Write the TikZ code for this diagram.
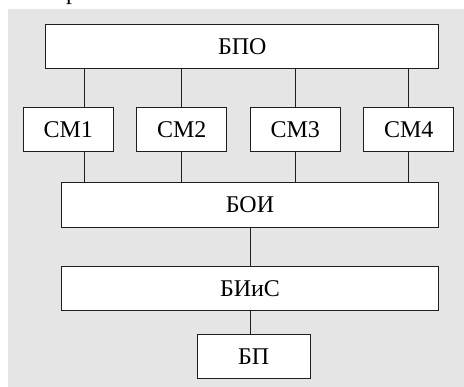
\documentclass[tikz,border=0pt]{standalone}
\usepackage{fontspec}
\setmainfont{Liberation Serif}
\definecolor{panel}{RGB}{229,229,229}
\definecolor{ink}{RGB}{30,30,30}
\tikzset{
  blk/.style={draw=ink, fill=white, line width=1pt, inner sep=0pt,
              minimum height=44.5pt, font=\fontsize{24}{28}\selectfont},
  wire/.style={draw=ink, line width=1pt}
}
\begin{document}
\begin{tikzpicture}[x=1pt, y=-1pt]
  \useasboundingbox (0,0) rectangle (464,387);
  \fill[panel] (8,9) rectangle (464,387);
  % descender of the caption line above the panel
  \begin{scope}
    \clip (0,0) rectangle (464,9);
    \node[anchor=base west, inner sep=0pt, font=\fontsize{24}{28}\selectfont] (cap) at (66,-0.7) {р};
  \end{scope}

  \node[blk, minimum width=392.7pt] (bpo) at (242.3,46.6) {БПО};
  \node[blk, minimum width=90pt] (cm1) at (68.3,129.7) {СМ1};
  \node[blk, minimum width=90pt] (cm2) at (181.7,129.7) {СМ2};
  \node[blk, minimum width=90pt] (cm3) at (295.3,129.7) {СМ3};
  \node[blk, minimum width=90pt] (cm4) at (408.7,129.7) {СМ4};
  \node[blk, minimum width=377.4pt] (boi) at (250,205) {БОИ};
  \node[blk, minimum width=377.4pt] (biis) at (250,288.7) {БИиС};
  \node[blk, minimum width=112.7pt] (bp) at (253.7,356.7) {БП};

  % buses between the blocks
  \draw[wire] ([xshift=15.7pt]cm1.north |- bpo.south) -- ([xshift=15.7pt]cm1.north);
  \draw[wire] ([xshift=15.7pt]cm1.south) -- ([xshift=15.7pt]cm1.south |- boi.north);
  \draw[wire] (cm2.north |- bpo.south) -- (cm2.north);
  \draw[wire] (cm2.south) -- (cm2.south |- boi.north);
  \draw[wire] (cm3.north |- bpo.south) -- (cm3.north);
  \draw[wire] (cm3.south) -- (cm3.south |- boi.north);
  \draw[wire] (cm4.north |- bpo.south) -- (cm4.north);
  \draw[wire] (cm4.south) -- (cm4.south |- boi.north);
  \draw[wire] (boi.south) -- (biis.north);
  \draw[wire] (biis.south) -- (biis.south |- bp.north);
\end{tikzpicture}
\end{document}
